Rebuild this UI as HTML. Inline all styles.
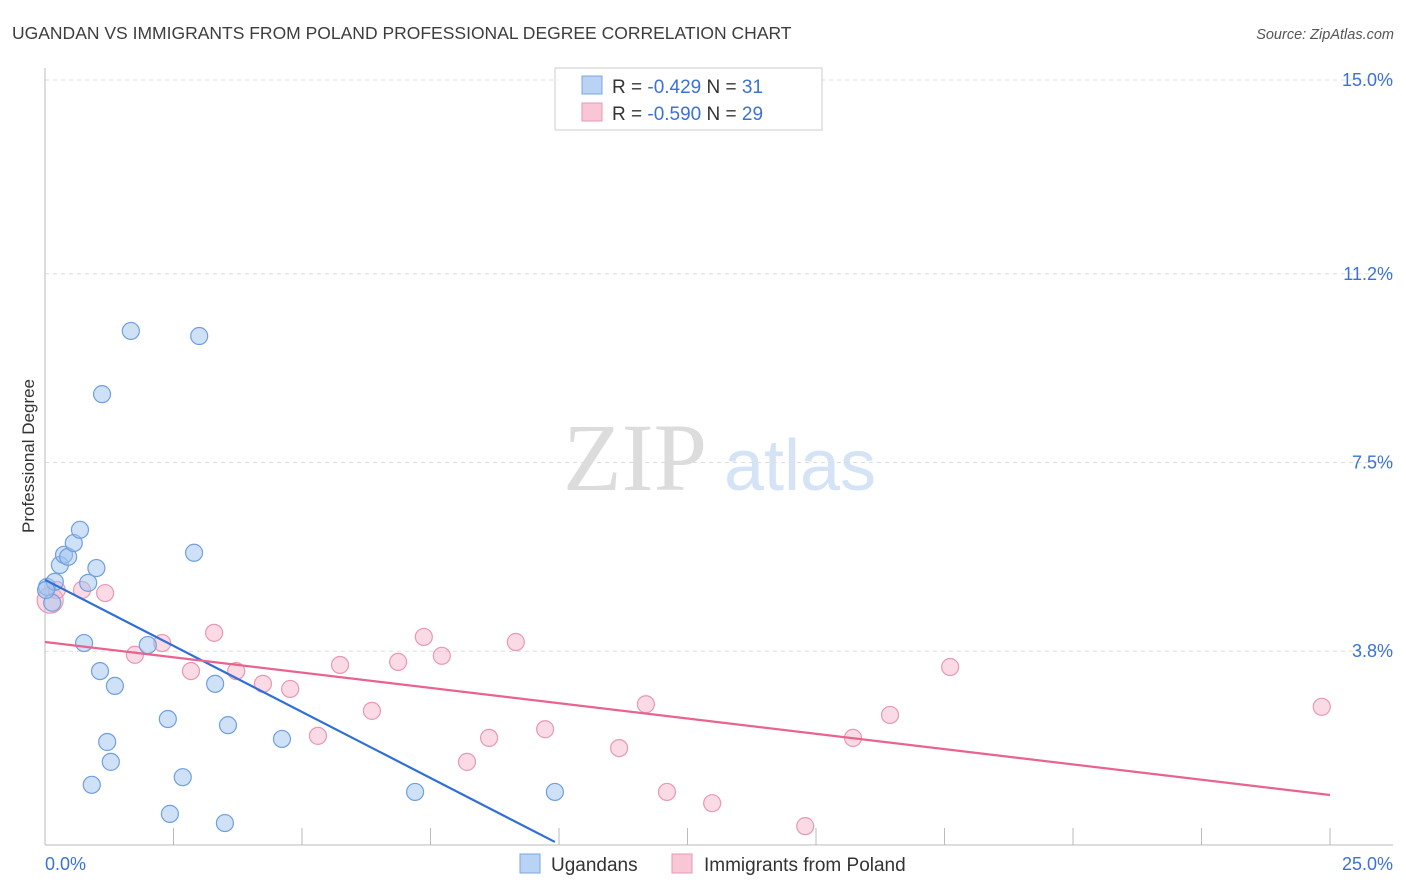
<!DOCTYPE html>
<html><head><meta charset="utf-8"><style>
body{margin:0;background:#fff;font-family:"Liberation Sans",sans-serif}
#wrap{position:relative;width:1406px;height:892px;overflow:hidden}
</style></head><body>
<div id="wrap">
<svg id="svg" width="1406" height="892" xmlns="http://www.w3.org/2000/svg">
<text x="12" y="39" font-size="17.5" fill="#3d3d3d">UGANDAN VS IMMIGRANTS FROM POLAND PROFESSIONAL DEGREE CORRELATION CHART</text>
<text x="1394" y="39" font-size="14.5" fill="#555" font-style="italic" text-anchor="end">Source: ZipAtlas.com</text>
<text transform="translate(34,456) rotate(-90)" font-size="17" fill="#333" text-anchor="middle">Professional Degree</text>
<g><text x="635" y="490" font-size="96" fill="#dcdcdc" font-family="Liberation Serif,serif" text-anchor="middle">ZIP</text><text x="800" y="490" font-size="72" fill="#d4e3f5" text-anchor="middle">atlas</text></g>
<g id="grid"></g><g id="axes"></g><g id="pts"></g><g id="trend"></g>
<g>
<rect x="555" y="68" width="267" height="62" fill="#fff" stroke="#ccc"/>
<rect x="582" y="76" width="20" height="18" fill="#b9d3f4" stroke="#7aa6e0"/>
<rect x="582" y="103" width="20" height="18" fill="#f8c6d5" stroke="#e898b2"/>
<text x="612" y="93" font-size="19" fill="#333">R = <tspan fill="#3a72d8">-0.429</tspan>   N =  <tspan fill="#3a72d8">31</tspan></text>
<text x="612" y="120" font-size="19" fill="#333">R = <tspan fill="#3a72d8">-0.590</tspan>   N = <tspan fill="#3a72d8">29</tspan></text>
</g>
<g>
<rect x="520" y="854" width="20" height="19" fill="#b9d3f4" stroke="#7aa6e0"/>
<text x="551" y="871" font-size="19" fill="#333">Ugandans</text>
<rect x="672" y="854" width="20" height="19" fill="#f8c6d5" stroke="#e898b2"/>
<text x="704" y="871" font-size="19" fill="#333">Immigrants from Poland</text>
</g>
</svg></div>
<script>
const yTicks=[3.8,7.5,11.2,15.0];
const yTickLabels=["3.8%","7.5%","11.2%","15.0%"];
const xTickLabels=["0.0%","25.0%"];
const blueX=[0.04,0.14,0.19,0.29,0.37,0.45,0.56,0.68,0.84,1.00,0.76,1.07,1.36,1.21,1.28,0.91,1.67,3.00,1.11,2.90,2.00,2.39,2.68,2.43,3.31,3.56,3.50,4.61,7.20,9.92,0.02];
const blueY=[5.06,4.75,5.16,5.49,5.69,5.65,5.92,6.18,5.14,5.43,3.96,3.41,3.12,2.02,1.63,1.18,10.08,9.98,8.84,5.73,3.92,2.47,1.33,0.61,3.16,2.35,0.43,2.08,1.04,1.04,5.00];
const pinkX=[0.10,0.23,0.72,1.17,1.75,2.28,2.84,3.29,3.72,4.24,4.77,5.31,5.74,6.36,6.87,7.37,7.72,8.21,8.64,9.16,9.73,11.17,11.69,12.10,12.98,14.79,15.72,16.44,17.61,24.84];
const pinkY=[4.80,5.00,5.00,4.94,3.73,3.96,3.41,4.16,3.41,3.16,3.06,2.14,3.53,2.63,3.59,4.08,3.71,1.63,2.10,3.98,2.27,1.90,2.76,1.04,0.82,0.37,2.10,2.55,3.49,2.71];
const blueTrendX=[0,9.92];
const blueTrendY=[5.20,0.06];
const pinkTrendX=[0,25];
const pinkTrendY=[3.98,0.98];
const NS="http://www.w3.org/2000/svg";
const sx=v=>45+v*51.4;
const sy=v=>845-v*51.0;
function mk(tag,attrs,parent){const e=document.createElementNS(NS,tag);for(const k in attrs)e.setAttribute(k,attrs[k]);document.getElementById(parent).appendChild(e);return e;}
yTicks.forEach((t,i)=>{
 const l=mk('line',{x1:45,x2:1393,y1:sy(t),y2:sy(t),stroke:'#ddd','stroke-dasharray':'4,4'},'grid');
 
 
 const tx=mk('text',{x:1393,y:sy(t)+6,'font-size':18,fill:'#3a72d8','text-anchor':'end'},'grid');
 tx.textContent=yTickLabels[i];
 
 
});
const ax=mk('line',{x1:45,x2:45,y1:68,y2:845,stroke:'#bbb'},'axes');


const bx=mk('line',{x1:45,x2:1393,y1:845,y2:845,stroke:'#bbb'},'axes');


for(let i=0;i<=10;i++){
 const t=mk('line',{x1:sx(i*2.5),x2:sx(i*2.5),y1:828,y2:845,stroke:'#bbb'},'axes');
 
 
}
const xl0=mk('text',{x:45,y:870,'font-size':18,fill:'#3a72d8'},'axes');xl0.textContent=xTickLabels[0];


const xl1=mk('text',{x:1393,y:870,'font-size':18,fill:'#3a72d8','text-anchor':'end'},'axes');xl1.textContent=xTickLabels[1];


pinkX.forEach((x,i)=>{
 const c=mk('circle',{cx:sx(x),cy:sy(pinkY[i]),r:i==0?13:8.5,fill:'rgba(245,176,198,0.45)',stroke:'#e898b2','stroke-width':1.2},'pts');
 
 
});
blueX.forEach((x,i)=>{
 const c=mk('circle',{cx:sx(x),cy:sy(blueY[i]),r:8.5,fill:'rgba(160,196,240,0.5)',stroke:'#6f9fe0','stroke-width':1.2},'pts');
 
 
});
const tb=mk('line',{x1:sx(blueTrendX[0]),y1:sy(blueTrendY[0]),x2:sx(blueTrendX[1]),y2:sy(blueTrendY[1]),stroke:'#2f6fd6','stroke-width':2.2},'trend');


const tp=mk('line',{x1:sx(pinkTrendX[0]),y1:sy(pinkTrendY[0]),x2:sx(pinkTrendX[1]),y2:sy(pinkTrendY[1]),stroke:'#e8648e','stroke-width':2.2},'trend');


</script>
</body></html>
